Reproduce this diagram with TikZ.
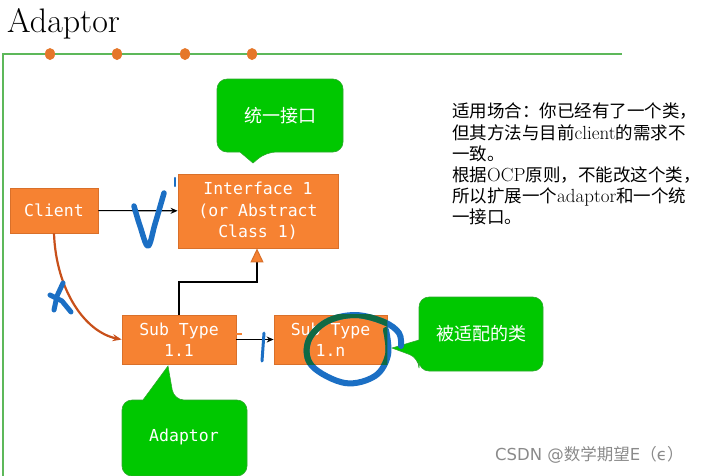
\documentclass[tikz,border=0pt]{standalone}
\usepackage{fontspec}
\usetikzlibrary{arrows.meta}
\newfontfamily\cjk{Noto Sans CJK SC}
\newfontfamily\boxfont{DejaVu Sans Mono}
\newfontfamily\wmfont{DejaVu Sans}
\definecolor{orangefill}{HTML}{F68232}
\definecolor{orangeedge}{HTML}{D9702A}
\definecolor{callgreen}{HTML}{00C800}
\definecolor{calledge}{HTML}{2EA82E}
\definecolor{framegreen}{HTML}{5DB85A}
\definecolor{dotorange}{HTML}{E5772A}
\definecolor{curvecol}{HTML}{C8501A}
\definecolor{inkblue}{HTML}{1B6FC4}
\definecolor{inkgreen}{HTML}{0E6A2E}
\definecolor{wmgray}{HTML}{8A8A8A}
\tikzset{
  box/.style={draw=orangeedge, fill=orangefill, text=white,
    font=\boxfont\fontsize{16.5}{21.5}\selectfont, align=center,
    inner sep=0pt, line width=0.8pt},
  conn/.style={draw=black, line width=1.1pt, -{Stealth[length=7pt,width=6pt]}},
  calloutshape/.style={fill=callgreen, draw=calledge, line width=0.6pt},
  callouttext/.style={text=white, inner sep=0pt},
  ink/.style={draw=inkblue, line cap=round, line join=round},
  dot/.style={fill=dotorange, draw=none},
  latin/.style={},
}
\newcommand{\lat}[1]{{\rmfamily\fontsize{19}{21.2}\selectfont #1}}
\begin{document}
\begin{tikzpicture}[x=1pt,y=-1pt]
\useasboundingbox (0,0) rectangle (711,475);
% title
\node[anchor=base west, inner sep=0pt, font=\fontsize{34}{34}\selectfont] (title) at (7,32) {Adaptor};
% frame line
\coordinate (fbot) at (3,476);
\coordinate (fcorner) at (3,54);
\coordinate (fend) at (622,54);
\draw[framegreen, line width=1.2pt] (fbot) -- (fcorner) -- (fend);
\foreach \x in {50,117,185,252} \fill[dot] (\x,54) ellipse [x radius=5pt, y radius=6pt];
% callouts
\draw[calloutshape] (240,152) [rounded corners=10pt] -- (217,152) -- (217,79) -- (343,79) -- (343,152) -- (266,152) [sharp corners] -- (253,163) -- cycle;
\node[callouttext, font=\cjk\fontsize{18}{18}\selectfont] (uni) at (280,116) {统一接口};
\draw[calloutshape] (419,340) [rounded corners=10pt] -- (419,297) -- (543,297) -- (543,371) -- (419,371) -- (419,358) [sharp corners] -- (392,348) -- cycle;
\node[callouttext, font=\cjk\fontsize{18}{18}\selectfont] (adaptee) at (481,334) {被适配的类};
\draw[calloutshape] (143,400) [rounded corners=10pt] -- (122,400) -- (122,476) -- (247,476) -- (247,400) -- (174,400) [sharp corners] -- (168,366) -- cycle;
\node[callouttext, font=\boxfont\fontsize{16.5}{16.5}\selectfont] (adlabel) at (184,437) {Adaptor};
% boxes
\node[box, minimum width=88pt, minimum height=45pt] (client) at (54,210.5) {Client};
\node[box, minimum width=160pt, minimum height=74pt] (iface) at (258,211) {Interface 1\\(or Abstract\\Class 1)};
\node[box, minimum width=114pt, minimum height=49pt] (st11) at (179,339.5) {Sub Type\\1.1};
\node[box, minimum width=113pt, minimum height=49pt] (st1n) at (330.5,339.5) {Sub Type\\1.n};
% connectors
\draw[conn] (client) -- (iface);
\draw[conn] (st11) -- (st1n);
\coordinate (bend) at (257,282);
\draw[line width=1.1pt, -{Triangle[length=14pt,width=13pt,fill=orangefill,color=orangeedge]}] (st11.north) |- (bend) -- (bend |- iface.south);
\draw[curvecol, line width=2.2pt, -{Stealth[length=9pt,width=7pt]}] (client.south) .. controls (56,290) and (85,332) .. (st11.west);
% description
\node[anchor=north west, inner sep=0pt, align=left, font=\cjk\fontsize{17.5}{21.2}\selectfont] (desc) at (452,103) {适用场合：你已经有了一个类，\\但其方法与目前\lat{client}的需求不\\一致。\\根据\lat{OCP}原则，不能改这个类，\\所以扩展一个\lat{adaptor}和一个统\\一接口。};
% watermark
\node[anchor=west, inner sep=0pt, text=wmgray, font=\fontsize{16.5}{16.5}\selectfont] (wm) at (495,455) {{\wmfont CSDN @}{\cjk 数学期望}{\wmfont E}{\cjk （}{\wmfont ϵ}{\cjk ）}};
% handwritten marks
\draw[orangefill, line width=2pt] (236,334) -- (242,334);
\draw[ink, line width=5.5pt] plot[smooth, tension=0.6] coordinates {(134,206) (140,226) (148,246) (155,224) (164,193)};
\draw[ink, line width=2.2pt] (175,178) -- (175,186);
\draw[ink, line width=5pt] (63,283) -- (57,296) -- (54,310);
\draw[ink, line width=5pt] (50,295) -- (62,301) -- (71,312);
\draw[ink, line width=3pt] (264,333) -- (262,361);
\draw[ink, line width=6pt] plot[smooth, tension=0.6] coordinates {(401,346) (399,333) (384,322) (355,315) (326,322) (308,342) (312,366) (345,383) (375,376) (388,355) (386,330)};
\begin{scope}
\clip (st1n.north west) rectangle (st1n.south east);
\draw[ink, draw=inkgreen, opacity=0.85, line width=6pt] plot[smooth, tension=0.6] coordinates {(401,346) (399,333) (384,322) (355,315) (326,322) (308,342) (312,366) (345,383) (375,376) (388,355) (386,330)};
\end{scope}
\end{tikzpicture}
\end{document}
